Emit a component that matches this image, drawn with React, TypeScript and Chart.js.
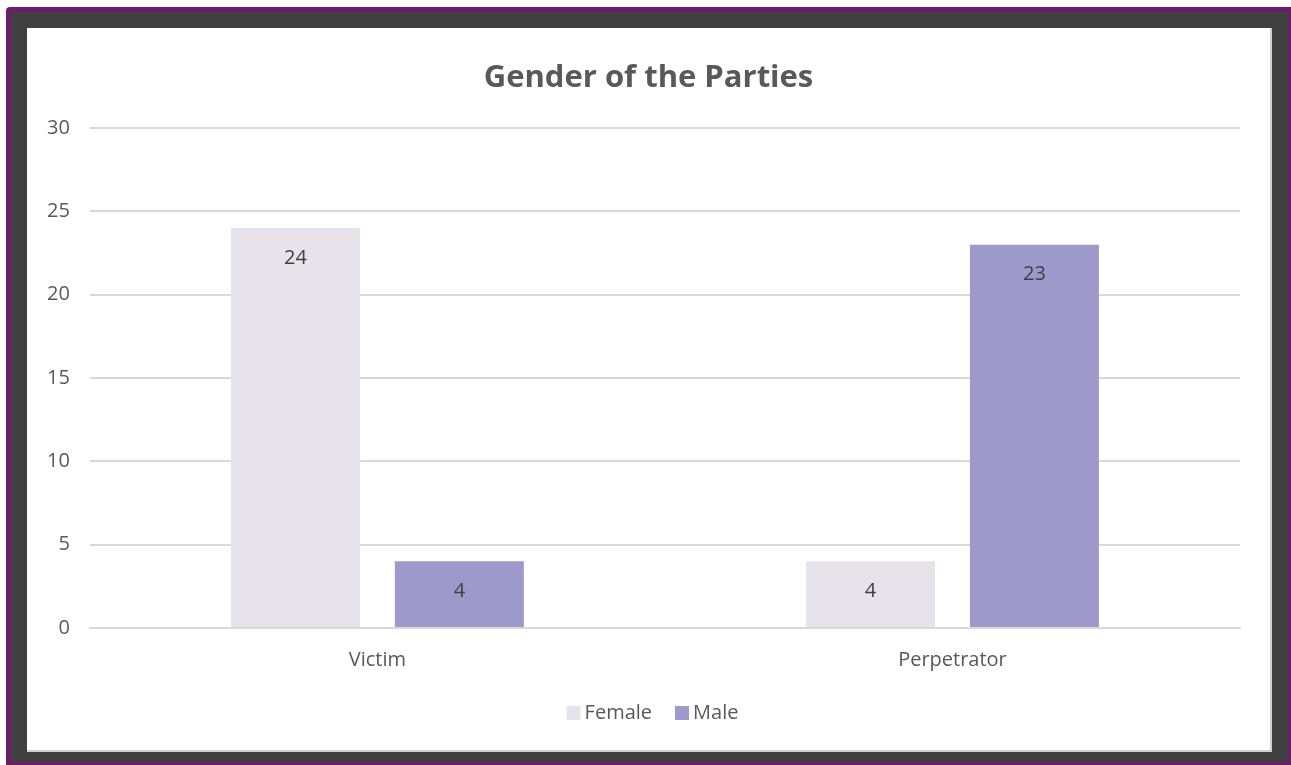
import React, { useEffect, useRef } from "react";
import { Chart, registerables } from "chart.js";

Chart.register(...registerables);

const categories = ["Victim", "Perpetrator"];
const femaleValues = [24, 4];
const maleValues = [4, 23];
const seriesNames = ["Female", "Male"];
const seriesColors = ["#E8E3EA", "#9E99CB"];
const yTicks = [0, 5, 10, 15, 20, 25, 30];
const titleText = "Gender of the Parties";

const FONT = "'Open Sans', 'Noto Sans', sans-serif";

const labelPlugin = {
  id: "barLabels",
  afterDatasetsDraw(chart: any) {
    const ctx = chart.ctx;
    ctx.save();
    ctx.font = `20px ${FONT}`;
    ctx.fillStyle = "#404040";
    ctx.textAlign = "center";
    ctx.textBaseline = "middle";
    chart.data.datasets.forEach((ds: any, di: number) => {
      const meta = chart.getDatasetMeta(di);
      meta.data.forEach((bar: any, i: number) => {
        ctx.fillText(String(ds.data[i]), bar.x, bar.y + 30);
      });
    });
    ctx.restore();
  },
};

const titleLegendPlugin = {
  id: "titleLegend",
  afterDraw(chart: any) {
    const ctx = chart.ctx;
    ctx.save();
    // title
    ctx.font = `bold 31px ${FONT}`;
    ctx.fillStyle = "#595959";
    ctx.textAlign = "center";
    ctx.textBaseline = "middle";
    ctx.fillText(titleText, chart.width / 2, 50);
    // legend
    ctx.font = `20px ${FONT}`;
    const box = 14;
    const gapText = 4;
    const gapItem = 23;
    const widths = chart.data.datasets.map((ds: any) => ctx.measureText(ds.label).width);
    const total =
      widths.reduce((a: number, b: number) => a + b, 0) +
      chart.data.datasets.length * (box + gapText) +
      (chart.data.datasets.length - 1) * gapItem;
    let x = chart.width / 2 + 4 - total / 2;
    const y = 685;
    ctx.textAlign = "left";
    chart.data.datasets.forEach((ds: any, i: number) => {
      ctx.fillStyle = ds.backgroundColor;
      ctx.fillRect(x, y - box / 2, box, box);
      x += box + gapText;
      ctx.fillStyle = "#595959";
      ctx.fillText(ds.label, x, y);
      x += widths[i] + gapItem;
    });
    ctx.restore();
  },
};

export default function App() {
  const ref = useRef<HTMLCanvasElement>(null);
  useEffect(() => {
    document.body.style.margin = "0";
    const chart = new Chart(ref.current!, {
      type: "bar",
      data: {
        labels: categories,
        datasets: [
          {
            label: seriesNames[0],
            data: femaleValues,
            backgroundColor: seriesColors[0],
            categoryPercentage: 0.57,
            barPercentage: 0.787,
          },
          {
            label: seriesNames[1],
            data: maleValues,
            backgroundColor: seriesColors[1],
            categoryPercentage: 0.57,
            barPercentage: 0.787,
          },
        ],
      },
      options: {
        animation: false,
        responsive: false,
        maintainAspectRatio: false,
        layout: { padding: { left: 0, right: 30, top: 100, bottom: 58 } },
        plugins: {
          title: { display: false },
          legend: { display: false },
          tooltip: { enabled: false },
        },
        scales: {
          x: {
            grid: { display: false, drawTicks: false },
            border: { display: true, color: "#d9d9d9", width: 2 },
            ticks: { color: "#595959", font: { family: FONT, size: 20 }, padding: 20 },
          },
          y: {
            min: 0,
            max: 30,
            afterBuildTicks: (axis: any) => {
              axis.ticks = yTicks.map((v) => ({ value: v }));
            },
            grid: { color: "#d9d9d9", lineWidth: 2, drawTicks: false },
            border: { display: false },
            ticks: { color: "#595959", font: { family: FONT, size: 20 }, padding: 20 },
          },
        },
      },
      plugins: [labelPlugin, titleLegendPlugin],
    });
    return () => chart.destroy();
  }, []);

  return (
    <div style={{ position: "relative", width: 1291, height: 765, overflow: "hidden", fontFamily: FONT }}>
      <div
        style={{
          position: "absolute",
          left: 6,
          top: 7,
          width: 1295,
          height: 768,
          boxSizing: "border-box",
          border: "5px solid #6B1D6B",
          borderRadius: 4,
          background: "#404040",
        }}
      />
      <div style={{ position: "absolute", left: 1288, top: 7, width: 3, height: 758, background: "#6B1D6B" }} />
      <div style={{ position: "absolute", left: 6, top: 762, width: 1285, height: 3, background: "#6B1D6B" }} />
      <div style={{ position: "absolute", left: 27, top: 28, width: 1245, height: 724, background: "#d0d0d0" }} />
      <div style={{ position: "absolute", left: 27, top: 28, width: 1243, height: 722, background: "#ffffff" }}>
        <canvas ref={ref} width={1243} height={722} style={{ display: "block" }} />
      </div>
    </div>
  );
}
